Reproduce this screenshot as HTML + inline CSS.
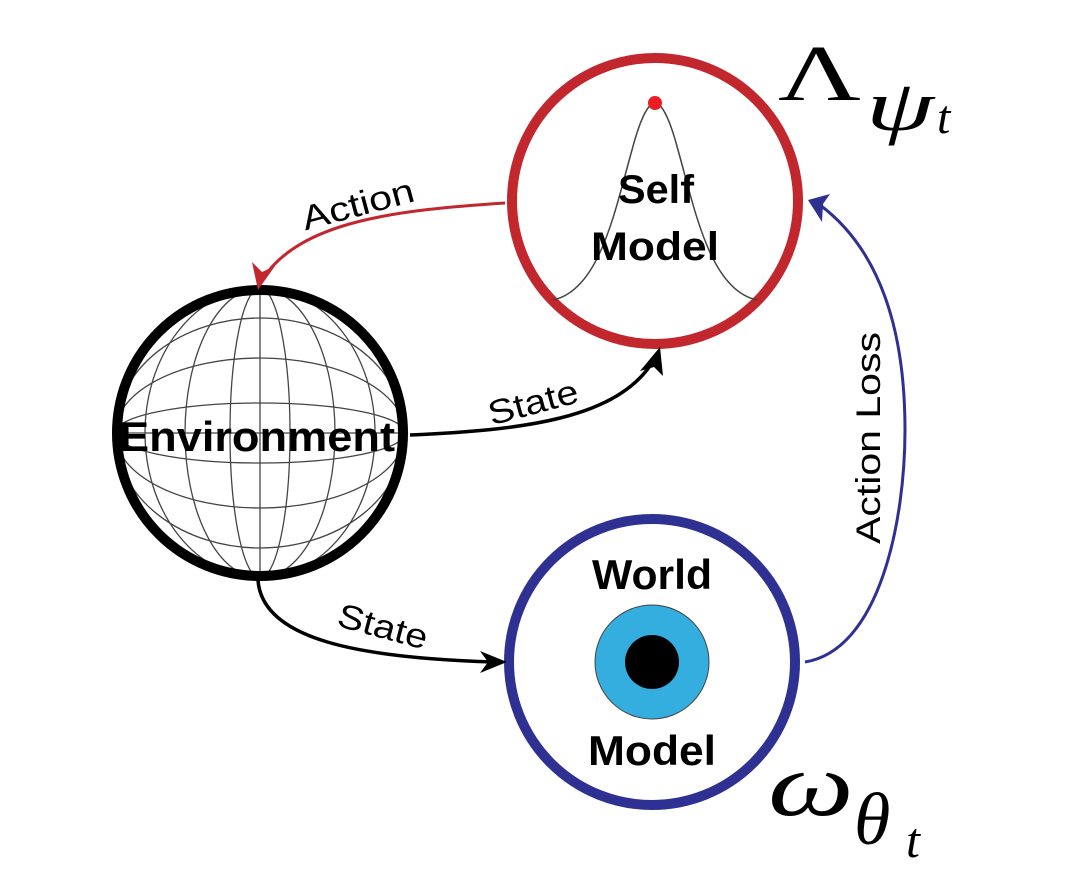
<!DOCTYPE html>
<html><head><meta charset="utf-8"><style>html,body{margin:0;padding:0;background:#fff}svg{display:block}</style></head>
<body>
<svg width="1079" height="869" viewBox="0 0 1079 869" xmlns="http://www.w3.org/2000/svg">
<defs>
<clipPath id="gc"><circle cx="260" cy="433" r="143"/></clipPath>
</defs>
<g clip-path="url(#gc)" fill="none" stroke="#444" stroke-width="1.3">
<ellipse cx="260" cy="433" rx="143" ry="143"/>
<ellipse cx="260" cy="433" rx="115" ry="145"/>
<ellipse cx="260" cy="433" rx="75" ry="145"/>
<ellipse cx="260" cy="433" rx="30" ry="145"/>
<ellipse cx="260" cy="433" rx="145" ry="115"/>
<ellipse cx="260" cy="433" rx="145" ry="75"/>
<ellipse cx="260" cy="433" rx="145" ry="30"/>
<line x1="100" y1="433" x2="420" y2="433"/>
<line x1="260" y1="280" x2="260" y2="590"/>
</g>
<circle cx="260" cy="433" r="143" fill="none" stroke="#000" stroke-width="10"/>
<text x="257" y="451" text-anchor="middle" font-family="Liberation Sans, sans-serif" font-weight="bold" font-size="42" textLength="276" lengthAdjust="spacingAndGlyphs">Environment</text>

<circle cx="655" cy="201" r="143" fill="#fff" stroke="#c1272d" stroke-width="10"/>
<path d="M553,300 C600,290 615,210 632,150 C642,112 650,103 655,103 C660,103 668,112 678,150 C695,210 710,290 757,300" fill="none" stroke="#444" stroke-width="1.5"/>
<circle cx="655" cy="103" r="7" fill="#ed1c24"/>
<text x="656" y="203" text-anchor="middle" font-family="Liberation Sans, sans-serif" font-weight="bold" font-size="40" textLength="76" lengthAdjust="spacingAndGlyphs">Self</text>
<text x="655" y="260" text-anchor="middle" font-family="Liberation Sans, sans-serif" font-weight="bold" font-size="40" textLength="128" lengthAdjust="spacingAndGlyphs">Model</text>

<circle cx="652" cy="662" r="143" fill="#fff" stroke="#2e3192" stroke-width="10"/>
<circle cx="652" cy="662" r="57" fill="#34aede" stroke="#444" stroke-width="1"/>
<circle cx="652" cy="662" r="27" fill="#000"/>
<text x="652" y="589" text-anchor="middle" font-family="Liberation Sans, sans-serif" font-weight="bold" font-size="42" textLength="120" lengthAdjust="spacingAndGlyphs">World</text>
<text x="652" y="765" text-anchor="middle" font-family="Liberation Sans, sans-serif" font-weight="bold" font-size="42" textLength="128" lengthAdjust="spacingAndGlyphs">Model</text>

<path d="M505,203 C400,210 300,220 262,280" fill="none" stroke="#c1272d" stroke-width="3"/>
<polygon points="258,290 252,262 262,272 275,266" fill="#c1272d"/>
<text x="358" y="216" text-anchor="middle" font-family="Liberation Sans, sans-serif" font-size="34" textLength="115" lengthAdjust="spacingAndGlyphs" transform="rotate(-15 358 205)">Action</text>

<path d="M410,435 C520,430 620,420 655,358" fill="none" stroke="#000" stroke-width="3.5"/>
<polygon points="660,347 663,376 654,367 640,371" fill="#000"/>
<text x="533" y="414" text-anchor="middle" font-family="Liberation Sans, sans-serif" font-size="34" textLength="92" lengthAdjust="spacingAndGlyphs" transform="rotate(-15 533 402)">State</text>

<path d="M258,580 C262,640 360,658 495,662" fill="none" stroke="#000" stroke-width="3.5"/>
<polygon points="507,662 480,651 488,662 480,673" fill="#000"/>
<text x="383" y="638" text-anchor="middle" font-family="Liberation Sans, sans-serif" font-size="34" textLength="92" lengthAdjust="spacingAndGlyphs" transform="rotate(15 383 626)">State</text>

<path d="M805,662 C880,650 905,520 905,430 C905,330 880,250 820,205" fill="none" stroke="#2e3192" stroke-width="3"/>
<polygon points="808,200 830,194 823,204 822,222" fill="#2e3192"/>
<text x="880" y="438" text-anchor="middle" font-family="Liberation Sans, sans-serif" font-size="34" textLength="212" lengthAdjust="spacingAndGlyphs" transform="rotate(-90 880 438)">Action Loss</text>

<text x="0" y="0" font-family="Liberation Serif, serif" font-size="88" transform="translate(778,100) scale(1.3,0.9)">Λ</text>
<text x="866" y="130" font-family="Liberation Serif, serif" font-style="italic" font-size="72" textLength="68" lengthAdjust="spacingAndGlyphs">ψ</text>
<text x="937" y="133" font-family="Liberation Serif, serif" font-style="italic" font-size="48">t</text>
<text x="0" y="0" font-family="Liberation Serif, serif" font-style="italic" font-size="90" transform="translate(768,815) scale(1.35,1)">ω</text>
<text x="854" y="844" font-family="Liberation Serif, serif" font-style="italic" font-size="74">θ</text>
<text x="906" y="857" font-family="Liberation Serif, serif" font-style="italic" font-size="50">t</text>
</svg>
</body></html>
